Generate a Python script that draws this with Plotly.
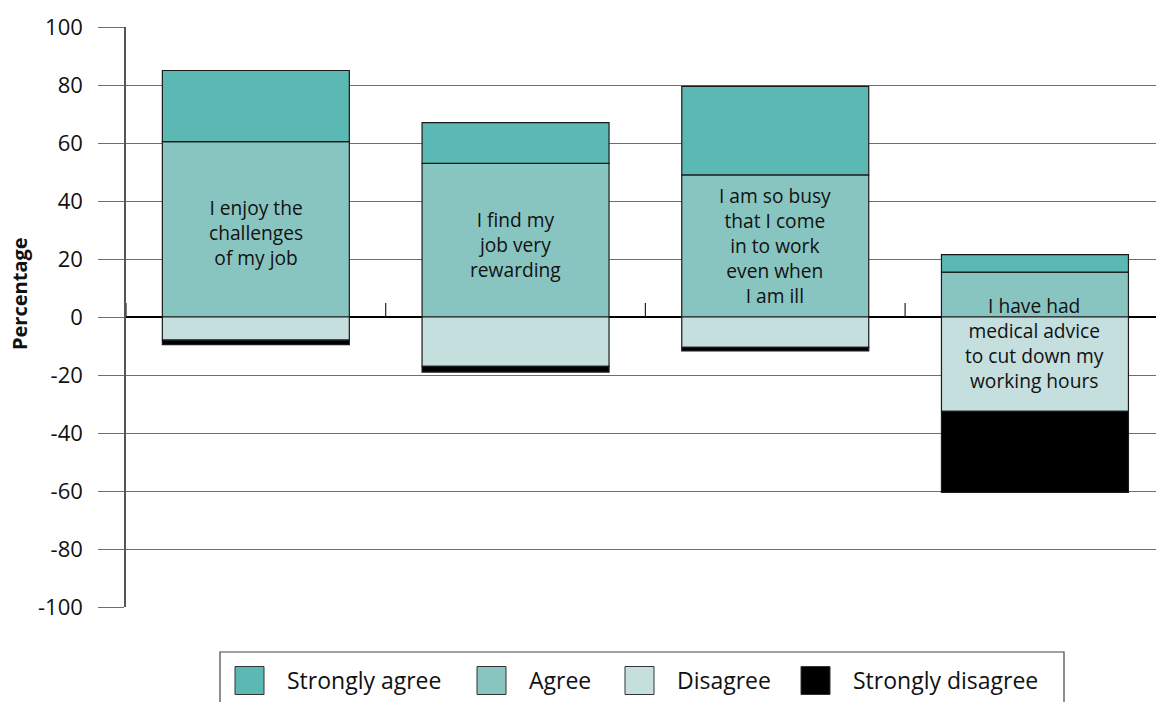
import plotly.graph_objects as go

# Survey statements (one stacked bar each)
statements = [
    "I enjoy the<br>challenges<br>of my job",
    "I find my<br>job very<br>rewarding",
    "I am so busy<br>that I come<br>in to work<br>even when<br>I am ill",
    "I have had<br>medical advice<br>to cut down my<br>working hours",
]

# Percentages per response (negatives drawn below zero)
strongly_agree = [24.5, 14, 30.5, 6]
agree = [60.5, 53, 49, 15.5]
disagree = [-8, -17, -10.5, -32.5]
strongly_disagree = [-1.5, -2, -1.2, -28]

series_names = ["Strongly agree", "Agree", "Disagree", "Strongly disagree"]
series_colors = ["#5cb8b3", "#88c5c1", "#c5dfdf", "#000000"]

# Vertical centre (in percentage units) of each statement label
label_y = [29, 25, 24.8, -9]

y_ticks = [-100, -80, -60, -40, -20, 0, 20, 40, 60, 80, 100]

W, H = 1156, 702
ML, MR, MT, MB = 126, 0, 27, 95
PW, PH = W - ML - MR, H - MT - MB
CAT_PX = 259.7  # pixel width of one category slot

FONT = "Open Sans"

x = list(range(len(statements)))
fig = go.Figure()

values = {
    "Strongly agree": strongly_agree,
    "Agree": agree,
    "Disagree": disagree,
    "Strongly disagree": strongly_disagree,
}
# Stacking order: Agree sits on zero, Strongly agree above it;
# Disagree hangs from zero, Strongly disagree below it.
for name in ["Agree", "Strongly agree", "Disagree", "Strongly disagree"]:
    fig.add_trace(go.Bar(
        x=x, y=values[name], name=name,
        marker=dict(color=series_colors[series_names.index(name)],
                    line=dict(color="#1a1a1a", width=1.2)),
        width=0.72, showlegend=False, hoverinfo="skip",
    ))

# Statement text inside each bar
for i, (txt, ly) in enumerate(zip(statements, label_y)):
    fig.add_annotation(x=i, y=ly, xref="x", yref="y", text=txt,
                       showarrow=False, align="center",
                       xanchor="center", yanchor="middle",
                       font=dict(family=FONT, size=19.2, color="#111111"))

# Short category divider ticks rising from the zero line
for i in range(len(statements)):
    fig.add_shape(type="line", xref="x", yref="y",
                  x0=i - 0.5, x1=i - 0.5, y0=0, y1=4.8,
                  line=dict(color="#222222", width=1.2))

# Hand-built legend beneath the chart
def px_x(px):
    return (px - ML) / PW

def px_y(py):
    return (MT + PH - py) / PH

fig.add_shape(type="rect", xref="paper", yref="paper",
              x0=px_x(220), x1=px_x(1064), y0=px_y(720), y1=px_y(652),
              line=dict(color="#444444", width=1.2), fillcolor="white")
swatch_left = [235, 477, 625, 801]
for name, color, sx in zip(series_names, series_colors, swatch_left):
    fig.add_shape(type="rect", xref="paper", yref="paper",
                  x0=px_x(sx), x1=px_x(sx + 29), y0=px_y(694.5), y1=px_y(666.5),
                  line=dict(color="#333333", width=1), fillcolor=color)
    fig.add_annotation(xref="paper", yref="paper", x=px_x(sx + 50), y=px_y(680),
                       text=name, showarrow=False, xanchor="left", yanchor="middle",
                       font=dict(family=FONT, size=23, color="#111111"))

# Axis title
fig.add_annotation(xref="paper", yref="paper", x=px_x(19), y=px_y(294),
                   text="<b>Percentage</b>", textangle=-90, showarrow=False,
                   xanchor="center", yanchor="middle",
                   font=dict(family=FONT, size=20, color="#111111"))

fig.update_layout(
    width=W, height=H,
    margin=dict(l=ML, r=MR, t=MT, b=MB, pad=0),
    paper_bgcolor="white", plot_bgcolor="white",
    barmode="relative", bargap=0.28,
    showlegend=False,
    font=dict(family=FONT, color="#111111"),
    xaxis=dict(range=[-0.5, -0.5 + PW / CAT_PX], showticklabels=False,
               showgrid=False, zeroline=False, showline=False, ticks="",
               fixedrange=True),
    yaxis=dict(range=[-100, 100], tickvals=y_ticks,
               ticktext=[str(v) for v in y_ticks],
               showgrid=True, gridcolor="#6e6e6e", gridwidth=1,
               zeroline=True, zerolinecolor="#000000", zerolinewidth=2,
               showline=True, linecolor="#555555", linewidth=1.5,
               ticks="outside", ticklen=26, tickcolor="#6e6e6e", tickwidth=1,
               ticklabelstandoff=11,
               tickfont=dict(family=FONT, size=22, color="#111111"),
               fixedrange=True),
)

fig.write_html("out.html")
